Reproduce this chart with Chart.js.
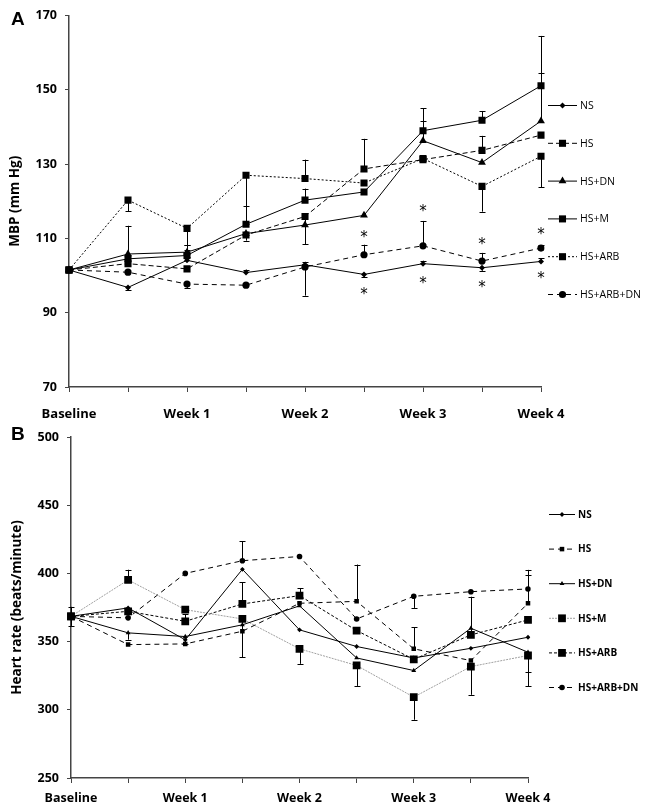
<!DOCTYPE html>
<html>
<head>
<meta charset="utf-8">
<script src="https://cdn.jsdelivr.net/npm/chart.js@4.4.1/dist/chart.umd.min.js"></script>
<style>
  html, body { margin: 0; padding: 0; background: #fff; }
  body { width: 645px; height: 810px; overflow: hidden; position: relative; }
  #wa { position: absolute; left: 0; top: 0; width: 645px; height: 420px; }
  #wb { position: absolute; left: 0; top: 420px; width: 645px; height: 390px; }
</style>
</head>
<body>
<div id="wa"><canvas id="ca"></canvas></div>
<div id="wb"><canvas id="cb"></canvas></div>
<script>
// ---------- data ----------
const timeLabels = ['Baseline', '', 'Week 1', '', 'Week 2', '', 'Week 3', '', 'Week 4'];
const groupNames = ['NS', 'HS', 'HS+DN', 'HS+M', 'HS+ARB', 'HS+ARB+DN'];

// Panel A: mean blood pressure (mm Hg)
const mbpTicks = [70, 90, 110, 130, 150, 170];
const mbpNS      = [101.5, 96.8, 104.1, 100.8, 102.9, 100.3, 103.2, 102.1, 103.8];
const mbpHS      = [101.5, 103.2, 101.8, 110.9, 115.9, 128.7, 131.2, 133.7, 137.8];
const mbpHSDN    = [101.5, 105.8, 106.3, 111.3, 113.6, 116.2, 136.3, 130.4, 141.6];
const mbpHSM     = [101.5, 104.5, 105.4, 113.8, 120.3, 122.5, 139.0, 141.8, 151.1];
const mbpHSARB   = [101.5, 120.3, 112.7, 127.0, 126.1, 124.9, 131.5, 124.0, 132.1];
const mbpHSARBDN = [101.5, 100.9, 97.7, 97.4, 102.3, 105.6, 108.0, 103.9, 107.4];
// error bars (signed: + drawn upward, - drawn downward)
const mbpErrNS      = [0, -0.8, 0.8, 0.8, 0.8, -0.8, 0.8, -0.8, 0.8];
const mbpErrHS      = [0, 0, 0, -1.5, -7.4, 8.1, 0, 3.9, 0];
const mbpErrHSDN    = [0, 7.6, 1.8, 0, 0, 0, 5.2, 0, 12.8];
const mbpErrHSM     = [0, 0, 1.5, 5, 3.1, 0, 6.1, 2.5, 13.4];
const mbpErrHSARB   = [0, -3, -4.5, -13, 5.1, 0, 0, -6.8, -8.3];
const mbpErrHSARBDN = [0, 0, -1, 0, -7.7, 2.7, 6.7, 2.2, 0.8];
// significance asterisks (value position)
const mbpStarsAbove = [null, null, null, null, null, 111.0, 118.0, 109.1, 111.8];
const mbpStarsBelow = [null, null, null, null, null, 95.6, 98.4, 97.5, 99.9];

// Panel B: heart rate (beats/minute)
const hrTicks = [250, 300, 350, 400, 450, 500];
const hrNS      = [368.5, 374.7, 351.3, 403.0, 358.6, 346.4, 338.0, 345.1, 353.2];
const hrHS      = [368.5, 347.8, 348.3, 357.6, 378.1, 379.5, 344.7, 336.1, 378.1];
const hrHSDN    = [368.5, 356.4, 353.7, 362.3, 376.2, 338.0, 328.8, 359.8, 342.2];
const hrHSM     = [368.5, 395.2, 373.4, 366.6, 344.7, 332.5, 309.3, 331.7, 339.8];
const hrHSARB   = [368.5, 372.2, 364.9, 377.6, 383.7, 358.1, 337.0, 354.9, 365.9];
const hrHSARBDN = [368.5, 367.4, 400.0, 409.3, 412.4, 366.6, 383.2, 386.6, 388.6];
const hrErrNS      = [7, 0, -3, 0, 0, 0, 0, 0, 0];
const hrErrHS      = [-7, 0, 0, 0, 0, 27, 16, 0, 21];
const hrErrHSDN    = [0, -5, 0, 0, 0, 0, 0, 0, -14.6];
const hrErrHSM     = [0, 7.5, 0, -28, -11, -15, -16.6, -20.7, -22.5];
const hrErrHSARB   = [0, 0, 5, 15.8, 5.6, 0, 0, 28, 0];
const hrErrHSARBDN = [0, 0, 0, 14.4, 0, 0, -8.5, 0, 14];

// ---------- styles ----------
const stylesA = [
  { ps: 'rectRot',  r: 3,   dash: [],     line: '#000' },
  { ps: 'rect',     r: 5,   dash: [5, 3], line: '#000' },
  { ps: 'triangle', r: 4.5, dash: [],     line: '#000' },
  { ps: 'rect',     r: 5,   dash: [],     line: '#000' },
  { ps: 'rect',     r: 5,   dash: [2, 2], line: '#000' },
  { ps: 'circle',   r: 3.6, dash: [5, 4], line: '#000' }
];
const stylesB = [
  { ps: 'rectRot',  r: 2.4, dash: [],     line: '#000' },
  { ps: 'rect',     r: 3.2, dash: [5, 4], line: '#000' },
  { ps: 'triangle', r: 2.8, dash: [],     line: '#000' },
  { ps: 'rect',     r: 5.5, dash: [2, 1], line: '#a0a0a0' },
  { ps: 'rect',     r: 5.5, dash: [3, 2], line: '#000' },
  { ps: 'circle',   r: 2.8, dash: [5, 4], line: '#000' }
];

function buildDatasets(series, errs, styles) {
  return series.map((d, i) => ({
    label: groupNames[i],
    data: d,
    err: errs[i],
    borderColor: styles[i].line,
    borderDash: styles[i].dash,
    borderWidth: 1,
    pointStyle: styles[i].ps,
    pointRadius: styles[i].r,
    pointHoverRadius: styles[i].r,
    pointBackgroundColor: '#000',
    pointBorderColor: '#000',
    pointBorderWidth: 0,
    tension: 0,
    fill: false
  }));
}

// ---------- plugins ----------
const errorBarPlugin = {
  id: 'errorBars',
  afterDatasetsDraw(chart) {
    const ctx = chart.ctx;
    const ys = chart.scales.y;
    ctx.save();
    ctx.strokeStyle = '#000';
    ctx.lineWidth = 1;
    ctx.setLineDash([]);
    chart.data.datasets.forEach((ds, i) => {
      const meta = chart.getDatasetMeta(i);
      (ds.err || []).forEach((e, j) => {
        if (!e) return;
        const pt = meta.data[j];
        const x = Math.round(pt.x) + 0.5;
        const y0 = ys.getPixelForValue(ds.data[j]);
        const y1 = ys.getPixelForValue(ds.data[j] + e);
        ctx.beginPath();
        ctx.moveTo(x, y0);
        ctx.lineTo(x, y1);
        ctx.moveTo(x - 3, Math.round(y1) + 0.5);
        ctx.lineTo(x + 3, Math.round(y1) + 0.5);
        ctx.stroke();
      });
    });
    ctx.restore();
  }
};

const starPlugin = {
  id: 'stars',
  afterDatasetsDraw(chart, args, opts) {
    if (!opts || !opts.sets) return;
    const ctx = chart.ctx;
    const xs = chart.scales.x, ys = chart.scales.y;
    ctx.save();
    ctx.fillStyle = '#000';
    ctx.font = '15px "DejaVu Sans"';
    ctx.textAlign = 'center';
    ctx.textBaseline = 'middle';
    opts.sets.forEach(arr => {
      arr.forEach((v, j) => {
        if (v === null) return;
        ctx.fillText('*', xs.getPixelForValue(j), ys.getPixelForValue(v) + 3);
      });
    });
    ctx.restore();
  }
};

const legendPlugin = {
  id: 'sideLegend',
  afterDraw(chart, args, o) {
    if (!o || !o.x0) return;
    const ctx = chart.ctx;
    ctx.save();
    chart.data.datasets.forEach((ds, i) => {
      const y = o.y0 + i * o.dy;
      ctx.beginPath();
      ctx.setLineDash(ds.borderDash || []);
      ctx.strokeStyle = ds.borderColor;
      ctx.lineWidth = 1;
      ctx.moveTo(o.x0, y + 0.5);
      ctx.lineTo(o.x1, y + 0.5);
      ctx.stroke();
      ctx.setLineDash([]);
      ctx.fillStyle = '#000';
      Chart.helpers.drawPoint(ctx, { pointStyle: ds.pointStyle, radius: ds.pointRadius, rotation: 0, borderWidth: 0 }, (o.x0 + o.x1) / 2, y + 0.5);
      ctx.font = o.font;
      ctx.textAlign = 'left';
      ctx.textBaseline = 'middle';
      ctx.fillText(ds.label, o.x1 + 3, y + 1);
    });
    ctx.restore();
  }
};

const panelLetterPlugin = {
  id: 'panelLetter',
  afterDraw(chart, args, o) {
    if (!o || !o.text) return;
    const ctx = chart.ctx;
    ctx.save();
    ctx.fillStyle = '#000';
    ctx.font = 'bold 19px "Liberation Sans"';
    ctx.textAlign = 'left';
    ctx.textBaseline = 'alphabetic';
    ctx.fillText(o.text, o.x, o.y);
    ctx.restore();
  }
};

Chart.register(errorBarPlugin, starPlugin, legendPlugin, panelLetterPlugin);

function makeChart(canvasId, datasets, cfg) {
  return new Chart(document.getElementById(canvasId), {
    type: 'line',
    data: { labels: timeLabels, datasets: datasets },
    options: {
      responsive: true,
      maintainAspectRatio: false,
      animation: false,
      events: [],
      layout: { padding: { left: 0, right: cfg.padRight, top: cfg.padTop, bottom: 0 } },
      plugins: {
        legend: { display: false },
        tooltip: { enabled: false },
        stars: { sets: cfg.stars },
        sideLegend: cfg.legend,
        panelLetter: cfg.letter
      },
      scales: {
        x: {
          type: 'category',
          offset: false,
          grid: { display: true, drawOnChartArea: false, drawTicks: true, tickLength: 5, color: '#444', lineWidth: 1 },
          border: { display: true, color: '#444', width: 1.5 },
          ticks: {
            autoSkip: false, maxRotation: 0, color: '#000',
            padding: cfg.xPad,
            font: { family: 'Open Sans', weight: 'bold', size: cfg.xFont }
          },
          afterFit(s) { s.height = cfg.xHeight; }
        },
        y: {
          min: cfg.ticks[0],
          max: cfg.ticks[cfg.ticks.length - 1],
          afterBuildTicks(s) { s.ticks = cfg.ticks.map(v => ({ value: v })); },
          grid: { display: true, drawOnChartArea: false, drawTicks: true, tickLength: 4, color: '#444', lineWidth: 1 },
          border: { display: true, color: '#444', width: 1.5 },
          ticks: {
            color: '#000', padding: 8,
            font: { family: 'Open Sans', weight: 'bold', size: 12.5 }
          },
          title: {
            display: true, text: cfg.yTitle, color: '#000',
            font: { family: 'Open Sans', weight: 'bold', size: 13.5 },
            padding: { top: cfg.titlePad, bottom: 0 }
          },
          afterFit(s) { s.width = cfg.yWidth; }
        }
      }
    }
  });
}

makeChart('ca',
  buildDatasets([mbpNS, mbpHS, mbpHSDN, mbpHSM, mbpHSARB, mbpHSARBDN],
                [mbpErrNS, mbpErrHS, mbpErrHSDN, mbpErrHSM, mbpErrHSARB, mbpErrHSARBDN], stylesA),
  {
    ticks: mbpTicks, yTitle: 'MBP (mm Hg)', padRight: 104, padTop: 12, yWidth: 69,
    xHeight: 33, xPad: 14, xFont: 13, titlePad: 7,
    stars: [mbpStarsAbove, mbpStarsBelow],
    legend: { x0: 548, x1: 577, y0: 105, dy: 37.8, font: '10.5px "Open Sans"' },
    letter: { text: 'A', x: 11, y: 25 }
  });

makeChart('cb',
  buildDatasets([hrNS, hrHS, hrHSDN, hrHSM, hrHSARB, hrHSARBDN],
                [hrErrNS, hrErrHS, hrErrHSDN, hrErrHSM, hrErrHSARB, hrErrHSARBDN], stylesB),
  {
    ticks: hrTicks, yTitle: 'Heart rate (beats/minute)', padRight: 117, padTop: 17, yWidth: 71,
    xHeight: 32, xPad: 8, xFont: 12.5, titlePad: 9,
    stars: [],
    legend: { x0: 549, x1: 575, y0: 94, dy: 34.6, font: 'bold 10px "Open Sans"' },
    letter: { text: 'B', x: 11, y: 20 }
  });
</script>
</body>
</html>
